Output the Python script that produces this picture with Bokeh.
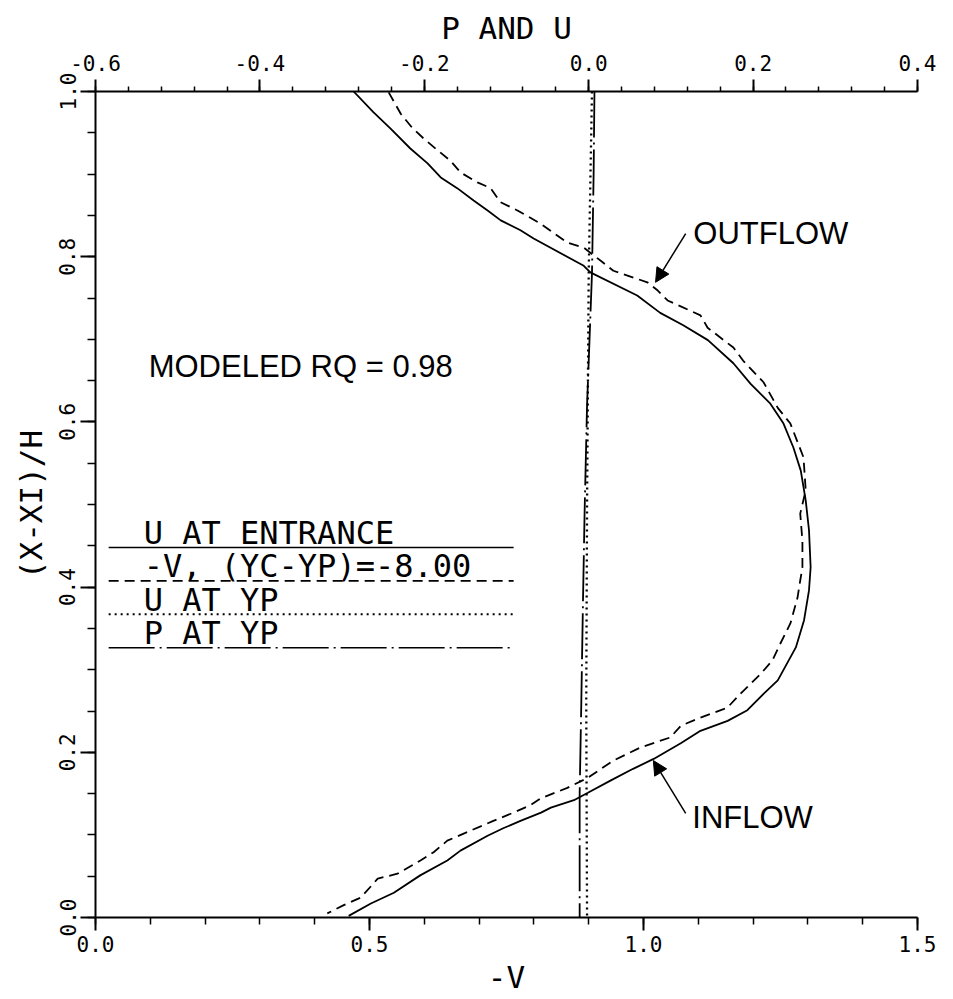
import math
from bokeh.plotting import figure
from bokeh.models import Range1d, LinearAxis, FixedTicker, PrintfTickFormatter, Arrow, NormalHead
from bokeh.core.properties import value
from bokeh.embed import file_html
from bokeh.resources import INLINE

# ---------------- data ----------------
# U at entrance (top axis, P and U) vs (X-XI)/H
U_ENT_Y = [1.000, 0.975, 0.955, 0.931, 0.913, 0.896, 0.883, 0.868, 0.856, 0.844, 0.832, 0.822,
           0.789, 0.781, 0.753, 0.732, 0.717, 0.699, 0.671, 0.646, 0.622, 0.598, 0.569, 0.541,
           0.505, 0.469, 0.424, 0.396, 0.360, 0.327, 0.287, 0.271, 0.251, 0.238, 0.226, 0.211,
           0.192, 0.180, 0.166, 0.151, 0.142, 0.133, 0.127, 0.117, 0.108, 0.099, 0.081, 0.069,
           0.051, 0.030, 0.017, 0.002]
U_ENT = [-0.286, -0.262, -0.241, -0.217, -0.196, -0.180, -0.160, -0.140, -0.123, -0.107, -0.083, -0.067,
         -0.006, 0.002, 0.059, 0.087, 0.115, 0.145, 0.176, 0.197, 0.221, 0.237, 0.249, 0.258,
         0.264, 0.268, 0.270, 0.268, 0.262, 0.252, 0.230, 0.213, 0.193, 0.169, 0.136, 0.112,
         0.079, 0.054, 0.027, -0.001, -0.018, -0.046, -0.058, -0.083, -0.104, -0.123, -0.156, -0.172,
         -0.205, -0.237, -0.265, -0.292]

# -V, (YC-YP) = -8.00 (bottom axis)
NEG_V_Y = [0.999, 0.973, 0.956, 0.943, 0.929, 0.916, 0.902, 0.890, 0.883, 0.866, 0.856, 0.840,
           0.817, 0.811, 0.795, 0.783, 0.769, 0.759, 0.747, 0.729, 0.714, 0.690, 0.674, 0.648,
           0.617, 0.598, 0.557, 0.517, 0.489, 0.456, 0.424, 0.408, 0.387, 0.356, 0.332, 0.311,
           0.295, 0.271, 0.254, 0.242, 0.232, 0.218, 0.206, 0.190, 0.169, 0.157, 0.144, 0.136,
           0.127, 0.117, 0.105, 0.093, 0.079, 0.069, 0.053, 0.047, 0.024, 0.015, 0.005]
NEG_V = [0.535, 0.557, 0.578, 0.599, 0.624, 0.648, 0.666, 0.697, 0.721, 0.739, 0.770, 0.812,
         0.861, 0.891, 0.922, 0.945, 1.007, 1.026, 1.044, 1.104, 1.117, 1.164, 1.182, 1.219,
         1.245, 1.268, 1.292, 1.296, 1.286, 1.290, 1.290, 1.286, 1.281, 1.268, 1.250, 1.235,
         1.214, 1.177, 1.153, 1.104, 1.068, 1.049, 0.995, 0.945, 0.898, 0.861, 0.812, 0.794,
         0.763, 0.726, 0.684, 0.642, 0.617, 0.593, 0.551, 0.515, 0.484, 0.453, 0.423]

# U at YP (top axis)
U_YP_Y = [1.0, 0.78, 0.50, 0.26, 0.0]
U_YP = [0.004, 0.000, -0.002, -0.003, -0.002]

# P at YP (top axis)
P_YP_Y = [1.0, 0.90, 0.78, 0.62, 0.49, 0.38, 0.26, 0.15, 0.0]
P_YP = [0.007, 0.006, 0.004, -0.002, -0.005, -0.007, -0.009, -0.011, -0.011]

LEGEND_LABELS = ["U AT ENTRANCE", "-V, (YC-YP)=-8.00", "U AT YP", "P AT YP"]
BOTTOM_TICKS = [0.0, 0.5, 1.0, 1.5]
TOP_TICKS = [-0.6, -0.4, -0.2, 0.0, 0.2, 0.4]
LEFT_TICKS = [0.0, 0.2, 0.4, 0.6, 0.8, 1.0]
NOTE = "MODELED RQ = 0.98"

# ---------------- styles ----------------
MONO = "DejaVu Sans Mono"
SANS = "Liberation Sans"
DASHES = ["solid", "10 6", "2 4", "46 5 2 5"]
TXT_UP = 0.0125  # baseline correction for text glyphs

p = figure(width=953, height=999, x_range=Range1d(0, 1.5), y_range=Range1d(0, 1),
           output_backend="svg", toolbar_location=None,
           min_border_left=95, min_border_right=36, min_border_top=91, min_border_bottom=82)
p.extra_x_ranges = {"top": Range1d(-0.6, 0.4)}
p.outline_line_color = None
p.xgrid.visible = False
p.ygrid.visible = False
p.background_fill_color = "white"
p.border_fill_color = "white"

bx = p.below[0]
ly = p.left[0]
top_axis = LinearAxis(x_range_name="top")
p.add_layout(top_axis, "above")


def style(ax, tick_out, minor_out, label, standoff, lab_standoff):
    ax.axis_line_width = 2
    ax.axis_line_color = "black"
    ax.major_tick_line_width = 2
    ax.minor_tick_line_width = 1.5
    ax.major_tick_in = 0
    ax.minor_tick_in = 0
    ax.major_tick_out = tick_out
    ax.minor_tick_out = minor_out
    ax.major_label_text_font = MONO
    ax.major_label_text_font_size = "21px"
    ax.major_label_text_color = "black"
    ax.major_label_standoff = standoff
    ax.axis_label = label
    ax.axis_label_text_font = MONO
    ax.axis_label_text_font_size = "31px"
    ax.axis_label_text_font_style = "normal"
    ax.axis_label_text_color = "black"
    ax.axis_label_standoff = lab_standoff
    ax.formatter = PrintfTickFormatter(format="%.1f")


style(bx, 13, 7, "-V", 5, 4)
bx.ticker = FixedTicker(ticks=BOTTOM_TICKS,
                        minor_ticks=[round(0.1 * i, 2) for i in range(16)])
style(top_axis, 12, 5, "P AND U", 9, 6)
top_axis.ticker = FixedTicker(ticks=TOP_TICKS,
                              minor_ticks=[round(-0.6 + 0.04 * i, 3) for i in range(26)])
style(ly, 15, 8, "(X-XI)/H", 5, 8)
ly.ticker = FixedTicker(ticks=LEFT_TICKS,
                        minor_ticks=[round(0.05 * i, 3) for i in range(21)])
ly.major_label_orientation = "parallel"

# ---------------- curves ----------------
p.line(U_ENT, U_ENT_Y, x_range_name="top", line_color="black", line_width=1.8)
p.line(NEG_V, NEG_V_Y, line_color="black", line_width=1.8, line_dash=DASHES[1])
p.line(U_YP, U_YP_Y, x_range_name="top", line_color="black", line_width=2.3, line_dash=DASHES[2])
p.line(P_YP, P_YP_Y, x_range_name="top", line_color="black", line_width=1.8, line_dash=DASHES[3])

# ---------------- legend (drawn manually: text above a line sample) ----------------
LEG_X0, LEG_X1, LEG_TX = 0.024, 0.763, 0.088
LEG_Y0, LEG_DY = 0.448, 0.0405
for i, lab in enumerate(LEGEND_LABELS):
    yy = LEG_Y0 - i * LEG_DY
    p.line([LEG_X0, LEG_X1], [yy, yy], line_color="black", line_width=1.6 if i != 2 else 2.0,
           line_dash=DASHES[i])
    p.text(x=[LEG_TX], y=[yy + 0.005 + TXT_UP], text=[lab], text_font=value(MONO),
           text_font_size="32px", text_baseline="alphabetic", text_align="left", text_color="black")

# ---------------- annotations ----------------
p.text(x=[0.097], y=[0.654 + TXT_UP], text=[NOTE], text_font=value(SANS), text_font_size="31px",
       text_baseline="alphabetic", text_color="black")
p.text(x=[1.091], y=[0.816 + TXT_UP], text=["OUTFLOW"], text_font=value(SANS), text_font_size="31px",
       text_baseline="alphabetic", text_color="black")
p.text(x=[1.089], y=[0.109 + TXT_UP], text=["INFLOW"], text_font=value(SANS), text_font_size="31px",
       text_baseline="alphabetic", text_color="black")

p.add_layout(Arrow(end=NormalHead(size=14, fill_color="black", line_color="black"),
                   x_start=1.077, y_start=0.828, x_end=1.022, y_end=0.769,
                   line_color="black", line_width=1.5))
p.add_layout(Arrow(end=NormalHead(size=14, fill_color="black", line_color="black"),
                   x_start=1.077, y_start=0.126, x_end=1.018, y_end=0.190,
                   line_color="black", line_width=1.5))

open("out.html", "w").write(file_html(p, INLINE))
